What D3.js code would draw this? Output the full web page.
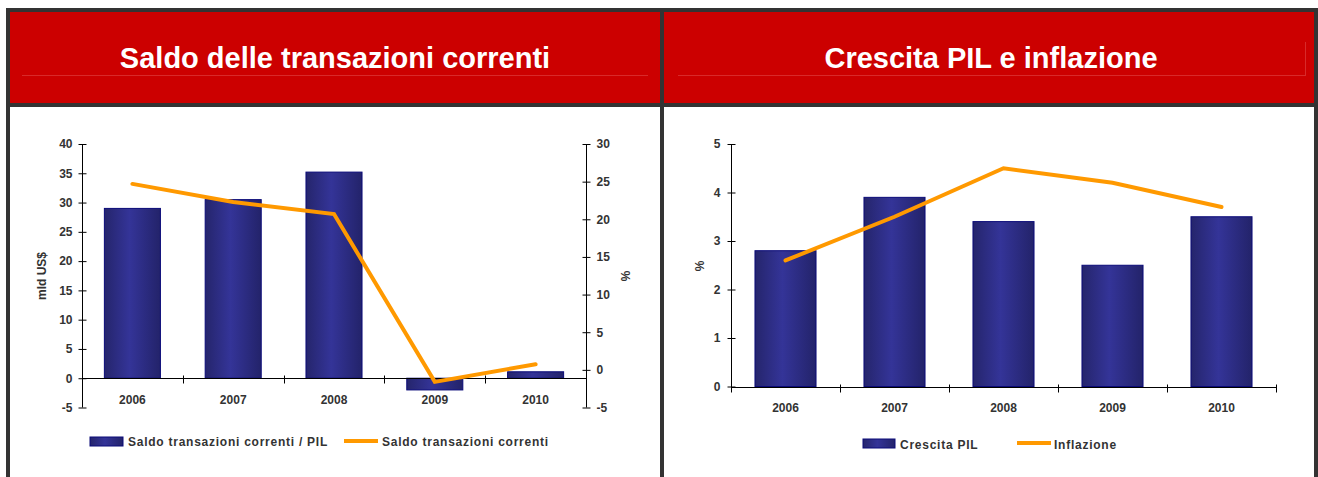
<!DOCTYPE html>
<html><head><meta charset="utf-8">
<script src="https://cdn.jsdelivr.net/npm/d3@7"></script>
<style>
html,body{margin:0;padding:0;background:#fff;}
svg text{font-family:"Liberation Sans",Arial,sans-serif;}
</style></head>
<body><svg id="c" width="1318" height="477"></svg>
<script>
// ---- data ----
const years = ["2006", "2007", "2008", "2009", "2010"];
const saldoPil = [29, 30.5, 35.2, -2, 1.1];          // bars, left axis (mld US$)
const saldoCorr = [24.7, 22.3, 20.7, -1.6, 0.75];    // line, right axis (%)
const pilGrowth = [2.8, 3.9, 3.4, 2.5, 3.5];         // bars (%)
const inflation = [2.6, 3.5, 4.5, 4.2, 3.7];         // line (%)
const leftTicks = [-5, 0, 5, 10, 15, 20, 25, 30, 35, 40];
const rightTicks = [-5, 0, 5, 10, 15, 20, 25, 30];
const pilTicks = [0, 1, 2, 3, 4, 5];
const titles = ["Saldo delle transazioni correnti", "Crescita PIL e inflazione"];
const legend1 = ["Saldo transazioni correnti / PIL", "Saldo transazioni correnti"];
const legend2 = ["Crescita PIL", "Inflazione"];

const svg = d3.select("#c");
const txt = "#333";
const orange = "#FF9900";
const fmt = d => String(d);

// gradient for bars
const defs = svg.append("defs");
const g = defs.append("linearGradient").attr("id", "barG").attr("x1", "0").attr("x2", "1").attr("y1", "0").attr("y2", "0");
g.append("stop").attr("offset", "0%").attr("stop-color", "#25256c");
g.append("stop").attr("offset", "45%").attr("stop-color", "#343498");
g.append("stop").attr("offset", "100%").attr("stop-color", "#23236a");

// ---- frame ----
const border = "#333";
svg.append("rect").attr("x", 8).attr("y", 10).attr("width", 1308).attr("height", 95).attr("fill", "#cc0000");
svg.append("rect").attr("x", 6).attr("y", 8).attr("width", 1312).attr("height", 4).attr("fill", border);
svg.append("rect").attr("x", 6).attr("y", 103).attr("width", 1312).attr("height", 4).attr("fill", border);
[6, 660, 1314].forEach(x => svg.append("rect").attr("x", x).attr("y", 8).attr("width", 4).attr("height", 469).attr("fill", border));

// title underlines
svg.append("line").attr("x1", 22).attr("x2", 648).attr("y1", 75.5).attr("y2", 75.5).attr("stroke", "#d82a2a").attr("stroke-width", 1);
svg.append("line").attr("x1", 678).attr("x2", 1305).attr("y1", 75.5).attr("y2", 75.5).attr("stroke", "#d82a2a").attr("stroke-width", 1);
svg.append("line").attr("x1", 1305.5).attr("x2", 1305.5).attr("y1", 42).attr("y2", 76).attr("stroke", "#d82a2a").attr("stroke-width", 1);

// titles
[[335, titles[0]], [991, titles[1]]].forEach(([x, t]) =>
  svg.append("text").attr("x", x).attr("y", 68).attr("text-anchor", "middle")
    .attr("fill", "#fff").attr("font-weight", "bold").attr("font-size", 29).text(t));

function styleAxis(sel, side) {
  sel.select(".domain").remove();
  sel.selectAll("line").attr("stroke", "#000").attr("stroke-width", 1);
  if (side === "left") sel.selectAll(".tick line").attr("x1", 4).attr("x2", -4);
  else sel.selectAll(".tick line").attr("x1", -4).attr("x2", 4);
  sel.selectAll("text").attr("fill", txt).attr("font-weight", "bold").attr("font-size", 12)
    .attr("font-family", "'Liberation Sans',Arial,sans-serif");
}

function drawBars(x, y, data) {
  svg.append("g").selectAll("rect").data(data).join("rect")
    .attr("x", (d, i) => x(years[i]))
    .attr("width", x.bandwidth())
    .attr("y", d => Math.min(y(d), y(0)))
    .attr("height", d => Math.abs(y(d) - y(0)))
    .attr("fill", "url(#barG)")
    .attr("stroke", "#0a0a78").attr("stroke-width", 1);
}

function drawLine(x, y, data) {
  const line = d3.line().x((d, i) => x(years[i]) + x.bandwidth() / 2).y(d => y(d));
  svg.append("path").datum(data).attr("d", line).attr("fill", "none")
    .attr("stroke", orange).attr("stroke-width", 4).attr("stroke-linejoin", "miter").attr("stroke-linecap", "round");
}

function xAxisLine(x, y0) {
  const r = x.range();
  svg.append("line").attr("x1", r[0]).attr("x2", r[1]).attr("y1", y0).attr("y2", y0).attr("stroke", "#000").attr("stroke-width", 1);
  const step = x.step();
  d3.range(0, years.length + 1).forEach(i => {
    const xx = Math.round(r[0] + i * step) + 0.5;
    svg.append("line").attr("x1", xx).attr("x2", xx).attr("y1", y0 - 3).attr("y2", y0 + 5).attr("stroke", "#000");
  });
}

function xLabels(x, yPos) {
  const ax = svg.append("g").attr("transform", `translate(0,${yPos})`)
    .call(d3.axisBottom(x).tickSize(0).tickPadding(0));
  ax.select(".domain").remove();
  ax.selectAll("text").attr("fill", txt).attr("font-weight", "bold").attr("font-size", 12)
    .attr("font-family", "'Liberation Sans',Arial,sans-serif").attr("dy", "0.32em");
}

// ---- chart 1 ----
{
  const x = d3.scaleBand().domain(years).range([82, 586]).paddingInner(0.444).paddingOuter(0.222);
  const yL = d3.scaleLinear().domain([-5, 40]).range([407.5, 144]);
  const yR = d3.scaleLinear().domain([-5, 30]).range([407.5, 144]);

  drawBars(x, yL, saldoPil);
  xAxisLine(x, Math.round(yL(0)) + 0.5);

  const aL = svg.append("g").attr("transform", "translate(82.5,0)")
    .call(d3.axisLeft(yL).tickValues(leftTicks).tickFormat(fmt).tickSize(4).tickPadding(6));
  styleAxis(aL, "left");
  svg.append("line").attr("x1", 82.5).attr("x2", 82.5).attr("y1", 144).attr("y2", 407.5).attr("stroke", "#000");

  const aR = svg.append("g").attr("transform", "translate(586.5,0)")
    .call(d3.axisRight(yR).tickValues(rightTicks).tickFormat(fmt).tickSize(4).tickPadding(6));
  styleAxis(aR, "right");
  svg.append("line").attr("x1", 586.5).attr("x2", 586.5).attr("y1", 144).attr("y2", 407.5).attr("stroke", "#000");

  drawLine(x, yR, saldoCorr);
  xLabels(x, 400);

  svg.append("text").attr("transform", "translate(46,276) rotate(-90)").attr("text-anchor", "middle")
    .attr("fill", txt).attr("font-weight", "bold").attr("font-size", 12).text("mld US$");
  svg.append("text").attr("transform", "translate(621,276) rotate(90)").attr("text-anchor", "middle")
    .attr("fill", txt).attr("font-weight", "bold").attr("font-size", 12).text("%");

  svg.append("rect").attr("x", 90).attr("y", 437).attr("width", 33).attr("height", 9).attr("fill", "url(#barG)").attr("stroke", "#0a0a78");
  svg.append("text").attr("x", 128).attr("y", 446).attr("fill", txt).attr("font-weight", "bold").attr("font-size", 12)
    .attr("letter-spacing", "0.75px").text(legend1[0]);
  svg.append("line").attr("x1", 344).attr("x2", 378).attr("y1", 441).attr("y2", 441).attr("stroke", orange).attr("stroke-width", 4);
  svg.append("text").attr("x", 382).attr("y", 446).attr("fill", txt).attr("font-weight", "bold").attr("font-size", 12)
    .attr("letter-spacing", "0.75px").text(legend1[1]);
}

// ---- chart 2 ----
{
  const x = d3.scaleBand().domain(years).range([731, 1276]).paddingInner(0.44).paddingOuter(0.22);
  const y = d3.scaleLinear().domain([0, 5]).range([386.5, 144]);

  drawBars(x, y, pilGrowth);
  xAxisLine(x, Math.round(y(0)) + 0.5);

  const a = svg.append("g").attr("transform", "translate(731.5,0)")
    .call(d3.axisLeft(y).tickValues(pilTicks).tickFormat(fmt).tickSize(4).tickPadding(7));
  styleAxis(a, "left");
  svg.append("line").attr("x1", 731.5).attr("x2", 731.5).attr("y1", 144).attr("y2", 387).attr("stroke", "#000");

  drawLine(x, y, inflation);
  xLabels(x, 408);

  svg.append("text").attr("transform", "translate(704,266) rotate(-90)").attr("text-anchor", "middle")
    .attr("fill", txt).attr("font-weight", "bold").attr("font-size", 12).text("%");

  svg.append("rect").attr("x", 863).attr("y", 439).attr("width", 32).attr("height", 9).attr("fill", "url(#barG)").attr("stroke", "#0a0a78");
  svg.append("text").attr("x", 900).attr("y", 448.5).attr("fill", txt).attr("font-weight", "bold").attr("font-size", 12)
    .attr("letter-spacing", "0.75px").text(legend2[0]);
  svg.append("line").attr("x1", 1017).attr("x2", 1051).attr("y1", 443).attr("y2", 443).attr("stroke", orange).attr("stroke-width", 4);
  svg.append("text").attr("x", 1054).attr("y", 448.5).attr("fill", txt).attr("font-weight", "bold").attr("font-size", 12)
    .attr("letter-spacing", "0.75px").text(legend2[1]);
}
</script></body></html>
